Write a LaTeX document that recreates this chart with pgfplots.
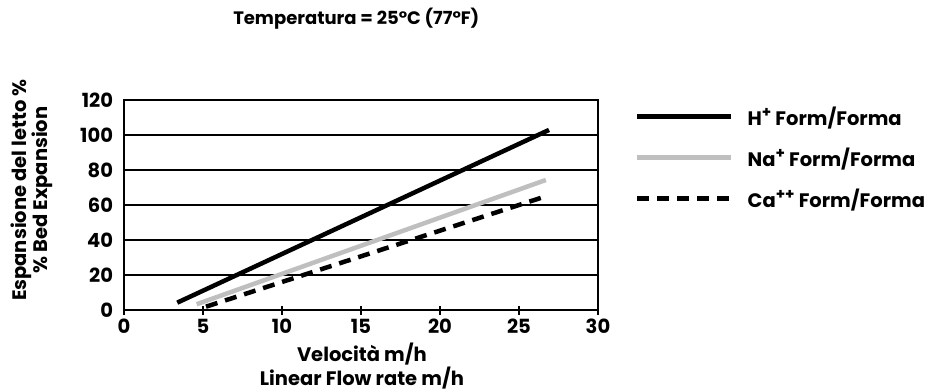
\documentclass[border=0pt]{standalone}
\usepackage{fontspec}
\setmainfont{Poppins}
\usepackage{pgfplots}
\pgfplotsset{compat=1.18}
\newcommand{\sups}[1]{\raisebox{0.40em}{\fontsize{15}{15}\selectfont #1}}
\definecolor{lgray}{gray}{0.75}
\begin{document}
\begin{tikzpicture}
\useasboundingbox (-124pt,-81pt) rectangle (817pt,310pt);
\begin{axis}[
  at={(0,0)}, anchor=south west,
  scale only axis, width=474pt, height=210pt,
  xmin=0, xmax=30, ymin=0, ymax=120,
  xtick={0,5,...,30}, ytick={0,20,...,120},
  axis line style={line width=2.5pt},
  tick align=center, major tick length=9pt,
  xtick style={line width=2pt, black},
  ytick style={draw=none},
  xtick pos=bottom,
  ymajorgrids, major grid style={line width=2pt, black},
  /pgf/number format/assume math mode=true,
  ticklabel style={font=\fontsize{19.5}{21}\selectfont\bfseries},
  xticklabel style={yshift=-1pt},
  yticklabel style={xshift=-3pt},
  title={Temperatura = 25°C (77°F)},
  title style={at={(axis description cs:0.49,1.357)}, anchor=center, font=\fontsize{18}{20}\selectfont\bfseries},
  xlabel={Velocità m/h\\Linear Flow rate m/h},
  every axis x label/.style={at={(axis description cs:0.502,-0.267)}, anchor=center, align=center, font=\fontsize{19.5}{21}\selectfont\bfseries},
  ylabel={Espansione del letto \%\\\% Bed Expansion},
  every axis y label/.style={at={(axis description cs:-0.194,0.571)}, rotate=90, anchor=center, align=center, font=\fontsize{19.5}{21}\selectfont\bfseries},
  legend style={at={(axis description cs:1.078,0.726)}, anchor=west, draw=none, fill=none, inner sep=0pt,
    font=\fontsize{19.5}{22}\selectfont\bfseries, row sep=17pt,
    /tikz/every odd column/.append style={column sep=12pt}},
  legend cell align=left,
  legend image code/.code={\draw[#1] (0pt,0pt) -- (94pt,0pt);},
]
\addplot[black, line width=4.5pt] coordinates {(3.37,4.2) (26.9,102.9)};
\addlegendentry{H\sups{+} Form/Forma}
\addplot[lgray, line width=4.5pt] coordinates {(4.6,3.3) (26.7,74.3)};
\addlegendentry{Na\sups{+} Form/Forma}
\addplot[black, line width=4.5pt, dash pattern=on 12pt off 8pt] coordinates {(5.19,1.9) (26.5,64.4)};
\addlegendentry{Ca\sups{++} Form/Forma}
\end{axis}
\end{tikzpicture}
\end{document}
